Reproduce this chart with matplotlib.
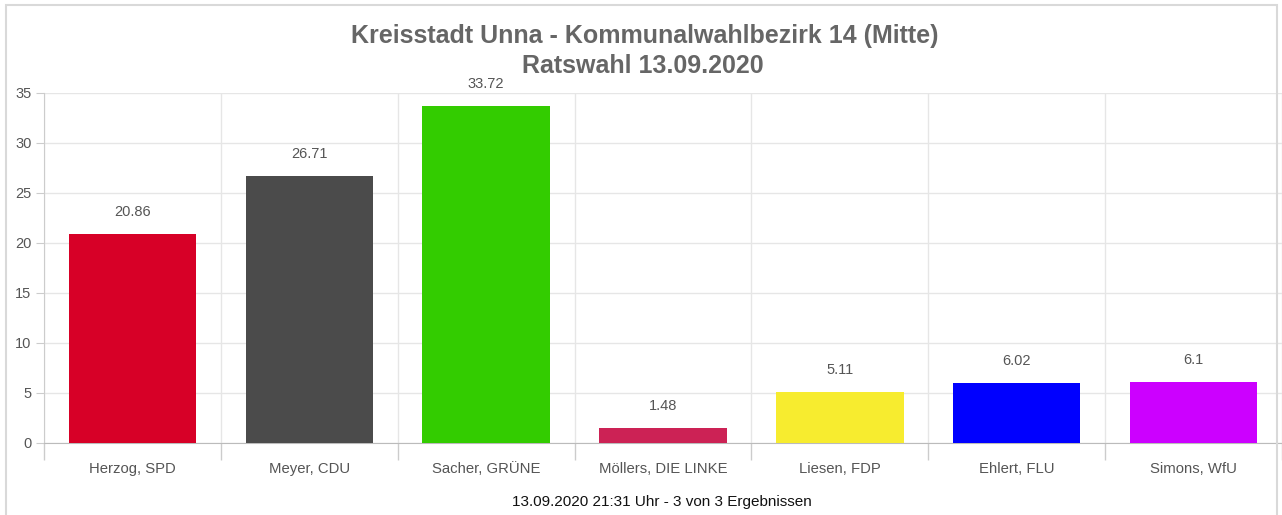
import matplotlib
matplotlib.use("Agg")
import matplotlib.pyplot as plt
from matplotlib.patches import Rectangle

plt.rcParams['font.family'] = ['Liberation Sans', 'DejaVu Sans']

# data
candidates = ["Herzog, SPD", "Meyer, CDU", "Sacher, GRÜNE", "Möllers, DIE LINKE",
              "Liesen, FDP", "Ehlert, FLU", "Simons, WfU"]
shares = [20.86, 26.71, 33.72, 1.48, 5.11, 6.02, 6.1]
share_labels = ["20.86", "26.71", "33.72", "1.48", "5.11", "6.02", "6.1"]
colours = ["#d70027", "#4b4b4b", "#33cc00", "#cc2255", "#f7ec2f", "#0000ff", "#cc00ff"]
yticks = [0, 5, 10, 15, 20, 25, 30, 35]

fig = plt.figure(figsize=(12.82, 5.15), dpi=100)

# outer frame of the widget
fig.patches.append(Rectangle((6 / 1282, -0.01), 1271 / 1282, 1 - 5 / 515 + 0.01,
                             transform=fig.transFigure, fill=False,
                             edgecolor="#d9d9d9", linewidth=1.5))

ax = fig.add_axes([44 / 1282, 1 - 443 / 515, 1 - 44 / 1282, 350 / 515])

xs = list(range(len(candidates)))
ax.bar(xs, shares, width=0.72, color=colours, zorder=3)

for x, v, lab in zip(xs, shares, share_labels):
    ax.annotate(lab, (x, v), xytext=(0, 16), textcoords="offset points",
                ha="center", va="center", fontsize=10.5, color="#555555")

ax.set_xlim(-0.5, len(candidates) - 0.5)
ax.set_ylim(0, 35)
ax.set_yticks(yticks)
ax.set_xticks(xs)
ax.set_xticklabels(candidates, fontsize=10.7, color="#555555")
ax.set_xticks([i - 0.5 for i in range(len(candidates) + 1)], minor=True)
ax.tick_params(axis="x", which="major", length=0, pad=14)
ax.tick_params(axis="x", which="minor", length=12, color="#cccccc", width=1)
ax.tick_params(axis="y", length=6, color="#cccccc", labelsize=10.5,
               labelcolor="#555555", pad=3)

ax.grid(axis="y", color="#e6e6e6", linewidth=1, zorder=0)
ax.grid(axis="x", which="minor", color="#e6e6e6", linewidth=1, zorder=0)
ax.set_axisbelow(True)

for s in ["top", "right"]:
    ax.spines[s].set_visible(False)
ax.spines["left"].set_color("#cccccc")
ax.spines["bottom"].set_color("#bbbbbb")

fig.text(645 / 1282, 1 - 36 / 515, "Kreisstadt Unna - Kommunalwahlbezirk 14 (Mitte)",
         ha="center", va="center", fontsize=18, fontweight="bold", color="#666666")
fig.text(643 / 1282, 1 - 66 / 515, "Ratswahl 13.09.2020",
         ha="center", va="center", fontsize=18, fontweight="bold", color="#666666")
fig.text(662 / 1282, 1 - 502 / 515, "13.09.2020 21:31 Uhr - 3 von 3 Ergebnissen",
         ha="center", va="center", fontsize=11, color="#111111")

fig.savefig("out.png", dpi=100)
